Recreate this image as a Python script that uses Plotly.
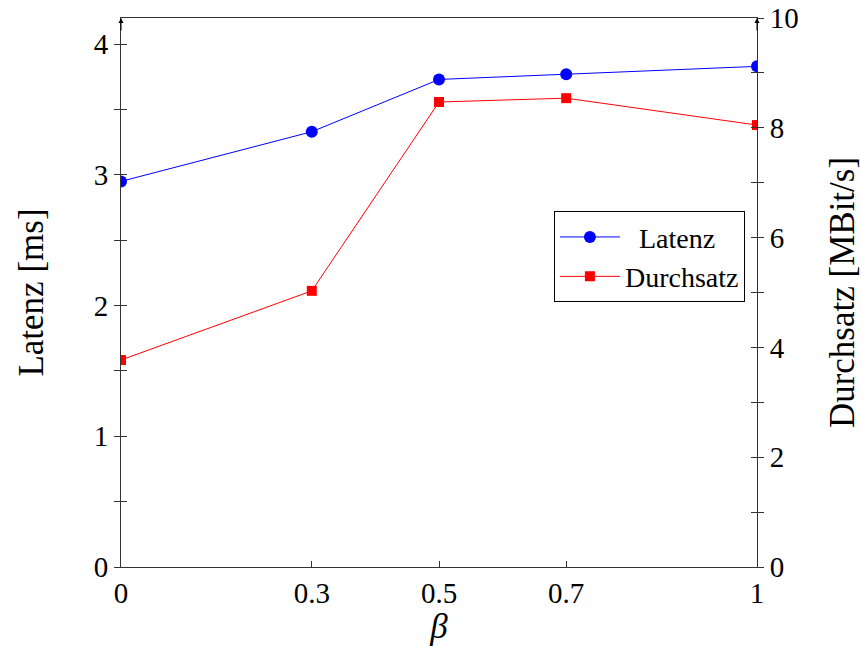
import plotly.graph_objects as go

beta = [0, 0.3, 0.5, 0.7, 1]
latenz = [2.95, 3.33, 3.73, 3.77, 3.83]
durchsatz = [3.77, 5.03, 8.47, 8.54, 8.05]
x_tickvals = [0, 0.3, 0.5, 0.7, 1]
x_ticktext = ["0", "0.3", "0.5", "0.7", "1"]
yl_tickvals = [0, 1, 2, 3, 4]
yr_tickvals = [0, 2, 4, 6, 8, 10]

FONT = "Liberation Serif"
AX = "#333"
FS = 29

fig = go.Figure()
fig.add_trace(go.Scatter(x=beta, y=latenz, name="  Latenz", mode="lines+markers",
                         line=dict(color="#0000ff", width=1),
                         marker=dict(symbol="circle", size=12, color="#0000ff"),
                         yaxis="y"))
fig.add_trace(go.Scatter(x=beta, y=durchsatz, name="Durchsatz", mode="lines+markers",
                         line=dict(color="#ff0000", width=1),
                         marker=dict(symbol="square", size=10, color="#ff0000"),
                         yaxis="y2"))

fig.update_layout(
    width=862, height=646,
    margin=dict(l=121, r=105, t=18, b=79, autoexpand=False),
    paper_bgcolor="white", plot_bgcolor="white",
    font=dict(family=FONT, size=FS, color="black"),
    showlegend=True,
    legend=dict(x=0.981, xanchor="right", y=0.648, yanchor="top",
                bordercolor="black", borderwidth=1, bgcolor="white",
                font=dict(size=28), itemwidth=60, tracegroupgap=0),
    xaxis=dict(range=[0, 1], tickvals=x_tickvals, ticktext=x_ticktext,
               showgrid=False, zeroline=False, showline=True, mirror=True,
               linecolor=AX, linewidth=1, ticks="inside", ticklen=6,
               tickcolor=AX, title=dict(text="<i>β</i>", standoff=6)),
    yaxis=dict(range=[0, 4.2], tickvals=yl_tickvals, showgrid=False,
               zeroline=False, showline=True, linecolor=AX, linewidth=1,
               ticks="outside", ticklen=6, tickcolor=AX,
               minor=dict(dtick=0.5, ticks="outside", ticklen=6, tickcolor=AX, showgrid=False),
               title=dict(text="Latenz [ms]", standoff=39)),
    yaxis2=dict(range=[0, 10], tickvals=yr_tickvals, overlaying="y", side="right",
                anchor="x", showgrid=False, zeroline=False, showline=True,
                linecolor=AX, linewidth=1, ticks="outside", ticklen=6, tickcolor=AX,
                minor=dict(dtick=1, ticks="outside", ticklen=6, tickcolor=AX, showgrid=False),
                title=dict(text="Durchsatz [MBit/s]", standoff=31)),
    yaxis3=dict(range=[0, 4.2], overlaying="y", side="left", anchor="x",
                tickvals=yl_tickvals, showticklabels=False, showgrid=False,
                zeroline=False, showline=False, ticks="inside", ticklen=6, tickcolor=AX,
                minor=dict(dtick=0.5, ticks="inside", ticklen=6, tickcolor=AX, showgrid=False)),
    yaxis4=dict(range=[0, 10], overlaying="y", side="right", anchor="x",
                tickvals=yr_tickvals, showticklabels=False, showgrid=False,
                zeroline=False, showline=False, ticks="inside", ticklen=6, tickcolor=AX,
                minor=dict(dtick=1, ticks="inside", ticklen=6, tickcolor=AX, showgrid=False)),
)

# invisible helper traces so the overlay tick axes render
fig.add_trace(go.Scatter(x=[None], y=[None], yaxis="y3", showlegend=False, hoverinfo="skip"))
fig.add_trace(go.Scatter(x=[None], y=[None], yaxis="y4", showlegend=False, hoverinfo="skip"))

for xp in (0, 1):
    fig.add_annotation(x=xp, y=1, xref="paper", yref="paper", ax=0, ay=14,
                       showarrow=True, arrowhead=2, arrowsize=1, arrowwidth=1,
                       arrowcolor="black", text="")

fig.write_html("out.html")
